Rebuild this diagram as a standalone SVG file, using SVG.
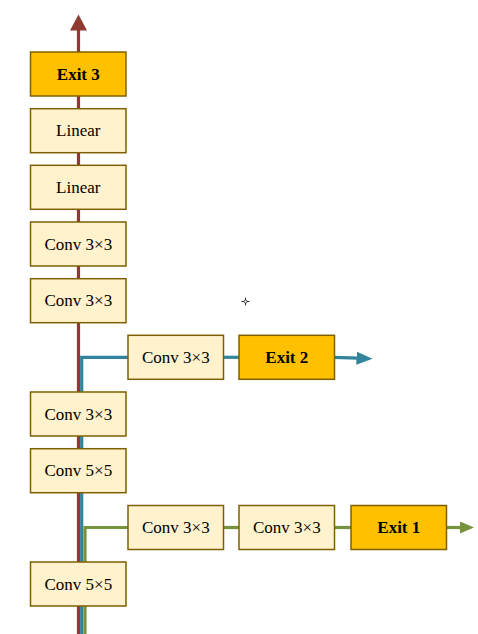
<svg xmlns="http://www.w3.org/2000/svg" width="478" height="634" viewBox="0 0 478 634">
<style>
.box{fill:#FFF2CC;stroke:#7F6000;stroke-width:1.5}
.exit{fill:#FFC000;stroke:#7F6000;stroke-width:1.5}
text{font-family:"Liberation Serif","Times New Roman",serif;font-size:17px;fill:#000;text-anchor:middle}
.b{font-weight:bold}
.red{stroke:#8E3A30;stroke-width:3.2;fill:none}
.blue{stroke:#31849B;stroke-width:3.2;fill:none}
.green{stroke:#77933C;stroke-width:3.2;fill:none}
</style>
<defs>
<marker id="hRed" markerUnits="userSpaceOnUse" markerWidth="17" markerHeight="17" refX="1" refY="8.5" orient="auto"><path d="M0,0 L16,8.5 L0,17 z" fill="#8E3A30"/></marker>
<marker id="hBlue" markerUnits="userSpaceOnUse" markerWidth="17" markerHeight="14" refX="1" refY="6.5" orient="auto"><path d="M0,0 L16,6.5 L0,13 z" fill="#31849B"/></marker>
<marker id="hGreen" markerUnits="userSpaceOnUse" markerWidth="15" markerHeight="13" refX="1" refY="6" orient="auto"><path d="M0,0 L14,6 L0,12 z" fill="#77933C"/></marker>
</defs>
<g id="connectors">
<path class="red" d="M78.5,634 V29.5" marker-end="url(#hRed)"/>
<path class="blue" d="M81.7,634 V357.3 H128"/>
<path class="blue" d="M223,357.3 H239"/>
<path class="blue" d="M334,357.3 L357.5,358.2" marker-end="url(#hBlue)"/>
<path class="green" d="M85,634 V527.5 H128"/>
<path class="green" d="M223,527.5 H239"/>
<path class="green" d="M334,527.5 H351"/>
<path class="green" d="M446,527.5 H461" marker-end="url(#hGreen)"/>
</g>
<g id="exit3"><rect class="exit" x="30.5" y="52" width="95.5" height="44"/><text class="b" x="78.3" y="79.5">Exit 3</text></g>
<g id="linear2"><rect class="box" x="30.5" y="108.7" width="95.5" height="44"/><text x="78.3" y="136.2">Linear</text></g>
<g id="linear1"><rect class="box" x="30.5" y="165.3" width="95.5" height="44"/><text x="78.3" y="192.8">Linear</text></g>
<g id="conv4"><rect class="box" x="30.5" y="222" width="95.5" height="44"/><text x="78.3" y="249.5">Conv 3×3</text></g>
<g id="conv3"><rect class="box" x="30.5" y="278.7" width="95.5" height="44"/><text x="78.3" y="306.2">Conv 3×3</text></g>
<g id="b2conv"><rect class="box" x="128" y="335.3" width="95.5" height="44"/><text x="175.8" y="362.8">Conv 3×3</text></g>
<g id="exit2"><rect class="exit" x="239" y="335.3" width="95.5" height="44"/><text class="b" x="286.8" y="362.8">Exit 2</text></g>
<g id="conv2"><rect class="box" x="30.5" y="392" width="95.5" height="44"/><text x="78.3" y="419.5">Conv 3×3</text></g>
<g id="conv5b"><rect class="box" x="30.5" y="448.7" width="95.5" height="44"/><text x="78.3" y="476.2">Conv 5×5</text></g>
<g id="b1conv1"><rect class="box" x="128" y="505.5" width="95.5" height="44"/><text x="175.8" y="533">Conv 3×3</text></g>
<g id="b1conv2"><rect class="box" x="239" y="505.5" width="95.5" height="44"/><text x="286.8" y="533">Conv 3×3</text></g>
<g id="exit1"><rect class="exit" x="351" y="505.5" width="95.5" height="44"/><text class="b" x="398.8" y="533">Exit 1</text></g>
<g id="conv5a"><rect class="box" x="30.5" y="562" width="95.5" height="44"/><text x="78.3" y="589.5">Conv 5×5</text></g>
<g id="crosshair" stroke="#333" stroke-width="1" fill="none"><circle cx="245.5" cy="301.5" r="1.5"/><path d="M241.5,301.5 H244 M247,301.5 H249.5 M245.5,297.5 V300 M245.5,303 V305.5"/></g>
</svg>
